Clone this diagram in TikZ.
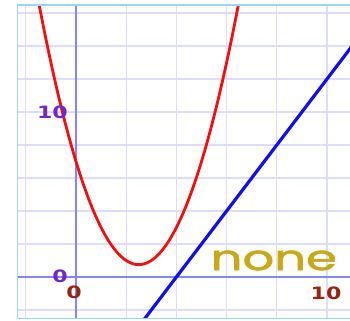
\documentclass[tikz,border=0pt]{standalone}
\usepackage{fontspec}
\newfontfamily\labfont{DejaVu Sans}
\newfontfamily\nonefont[FakeBold=1.5]{Poppins}
\definecolor{gridc}{HTML}{DCDCFF}
\definecolor{axisc}{HTML}{8484FF}
\definecolor{framec}{HTML}{9AD4FF}
\definecolor{purplec}{HTML}{7028C8}
\definecolor{redlab}{HTML}{9A2412}
\definecolor{goldc}{HTML}{C8A818}
\definecolor{curvered}{HTML}{F01010}
\definecolor{lineblue}{HTML}{1010E8}
\begin{document}
\begin{tikzpicture}[x=25.1pt,y=16.5pt,
  gridline/.style={draw=gridc,line width=1.1pt},
  axisline/.style={draw=axisc,line width=1.8pt},
  ylab/.style={text=purplec,font=\labfont\bfseries\fontsize{17}{17}\selectfont,xscale=1.3,inner sep=0pt},
  xlab/.style={text=redlab,font=\labfont\bfseries\fontsize{17}{17}\selectfont,xscale=1.3,inner sep=0pt}]
\useasboundingbox (-3.028,-2.606) rectangle (10.916,16.788);
\fill[white] (-3.028,-2.606) rectangle (10.916,16.788);
\begin{scope}
\clip (-2.33,-2.52) rectangle (11.2,16.48);
\foreach \i in {-2,2,4,6,8,10} \draw[gridline] (\i,-3) -- (\i,17);
\foreach \j in {-2,2,4,6,8,10,12,14,16} \draw[gridline] (-3,\j) -- (11.5,\j);
\draw[axisline] (-3,0) -- (11.5,0);
\draw[axisline] (0,-3) -- (0,17);
\draw[curvered,line width=2.8pt,domain=-1.7:6.7,samples=120] plot (\x,{\x*\x-5*\x+7});
\draw[lineblue,line width=3.2pt] (2.6,-2.8) -- (11.2,14.4);
\end{scope}
\draw[framec,line width=1.4pt] (11.5,-2.52) -- (-2.33,-2.52) -- (-2.33,16.48) -- (11.5,16.48);
\node[ylab] (y10) at (-0.94,10) {10};
\node[ylab] (y0) at (-0.64,0.05) {0};
\node[xlab] (x0) at (-0.08,-0.93) {0};
\node[xlab] (x10) at (9.96,-0.97) {10};
\node[text=goldc,font=\nonefont\fontsize{35}{35}\selectfont,xscale=1.42,inner sep=0pt,anchor=base] (none) at (7.88,0.42) {none};
\end{tikzpicture}
\end{document}
